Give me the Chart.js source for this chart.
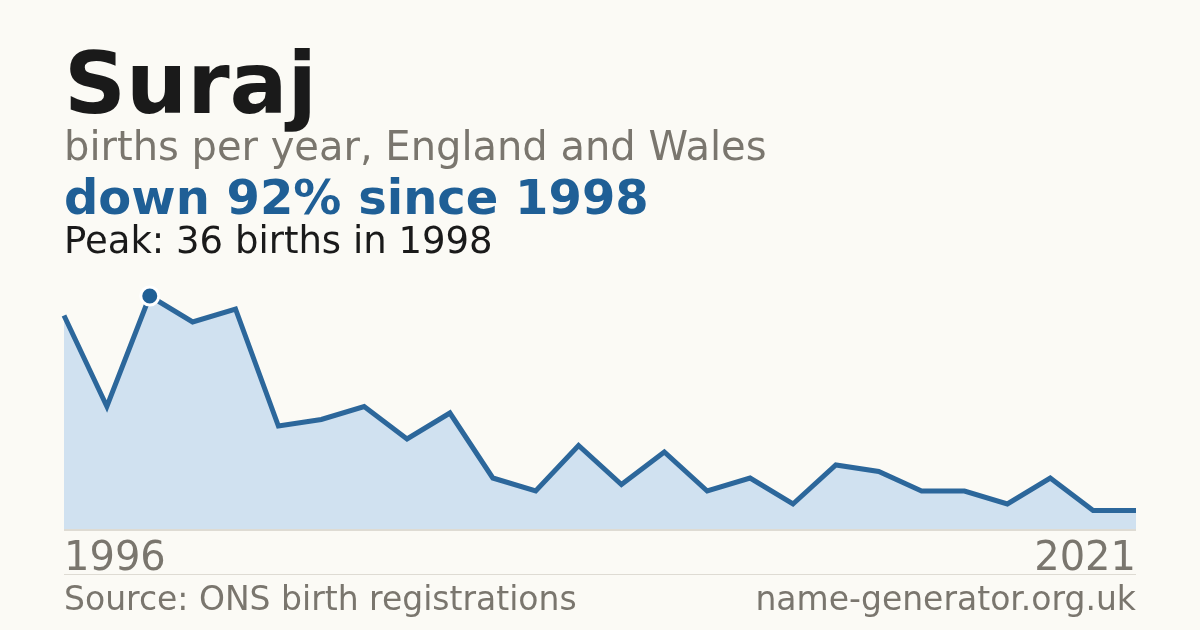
<!DOCTYPE html>
<html>
<head>
<meta charset="utf-8">
<script src="https://cdn.jsdelivr.net/npm/chart.js@4.4.0/dist/chart.umd.min.js"></script>
<style>
  html, body { margin:0; padding:0; background:#fbfaf5; }
  body { width:1200px; height:630px; position:relative; overflow:hidden; font-family:"DejaVu Sans", sans-serif; }
  .t { position:absolute; left:64px; white-space:nowrap; line-height:1; }
  #title { top:40px; font-size:86px; font-weight:bold; color:#1a1a1a; }
  #sub { top:126px; font-size:40px; color:#7a766e; }
  #headline { top:173px; font-size:48px; font-weight:bold; color:#1f5f96; }
  #peak { top:222px; font-size:37px; color:#1a1a1a; }
  #c { position:absolute; left:0; top:0; }
  #base { position:absolute; left:64px; width:1072px; top:529px; height:2px; background:#dedbd3; }
  #sep { position:absolute; left:64px; width:1072px; top:574px; height:1px; background:#dedbd3; }
  .yr { position:absolute; top:536px; font-size:40px; color:#7a766e; line-height:1; }
  #y0 { left:64px; }
  #y1 { right:64px; }
  .ft { position:absolute; top:582px; font-size:33px; color:#7a766e; line-height:1; white-space:nowrap; }
  #src { left:64px; }
  #site { right:64px; }
</style>
</head>
<body>
<canvas id="c" width="1200" height="630"></canvas>
<div id="base"></div>
<div class="t" id="title">Suraj</div>
<div class="t" id="sub">births per year, England and Wales</div>
<div class="t" id="headline">down 92% since 1998</div>
<div class="t" id="peak">Peak: 36 births in 1998</div>
<div class="yr" id="y0">1996</div>
<div class="yr" id="y1">2021</div>
<div id="sep"></div>
<div class="ft" id="src">Source: ONS birth registrations</div>
<div class="ft" id="site">name-generator.org.uk</div>
<script>
var years = [1996,1997,1998,1999,2000,2001,2002,2003,2004,2005,2006,2007,2008,2009,2010,2011,2012,2013,2014,2015,2016,2017,2018,2019,2020,2021];
var births = [33,19,36,32,34,16,17,19,14,18,8,6,13,7,12,6,8,4,10,9,6,6,4,8,3,3];

var peakIdx = births.indexOf(Math.max.apply(null, births));
var radii = births.map(function(v, i){ return i == peakIdx ? 9 : 0; });

var chart = new Chart(document.getElementById("c"), {
    type:"line",
    data:{
        labels:years,
        datasets:[{
            data:births,
            borderColor:"#2c679b",
            borderWidth:5,
            backgroundColor:"#d0e1f0",
            fill:"origin",
            tension:0,
            pointRadius:radii,
            pointHoverRadius:radii,
            pointBackgroundColor:"#1f5f96",
            pointBorderColor:"#ffffff",
            pointBorderWidth:3
        }]
    },
    options:{
        responsive:false,
        animation:false,
        events:[],
        layout:{ padding:{ left:64, right:64, top:270, bottom:100 } },
        plugins:{ legend:{ display:false }, tooltip:{ enabled:false } },
        scales:{
            x:{ display:false },
            y:{ display:false, min:0, max:40 }
        },
        clip:false
    }
});
</script>
</body>
</html>
